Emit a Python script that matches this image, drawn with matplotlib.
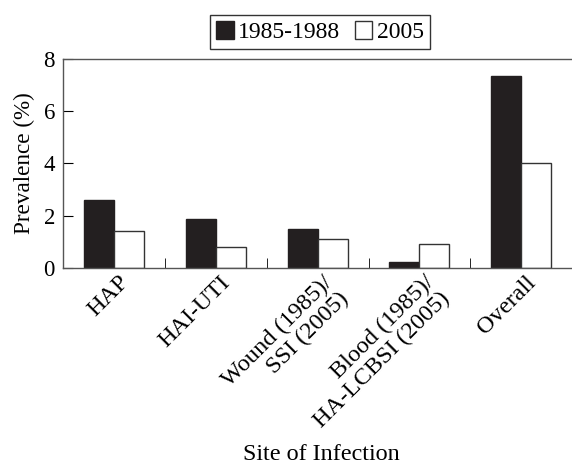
import numpy as np
import matplotlib.pyplot as plt
import matplotlib.transforms as mtransforms

plt.rcParams['font.family'] = ['Liberation Serif', 'DejaVu Serif']

sites = ['HAP', 'HAI-UTI', 'Wound (1985)/\nSSI (2005)',
         'Blood (1985)/\nHA-LCBSI (2005)', 'Overall']
prev_1985 = [2.6, 1.85, 1.5, 0.22, 7.33]
prev_2005 = [1.4, 0.8, 1.1, 0.9, 4.0]
series = ['1985-1988', '2005']


def plot():
    fig = plt.figure(figsize=(5.72, 4.68), dpi=100)
    ax = fig.add_axes([0.1107, 0.428, 0.8893, 0.446])

    x = np.arange(len(sites))
    w = 0.295
    ax.bar(x - w/2, prev_1985, w, color='#231f20', edgecolor='#231f20',
           linewidth=1, label=series[0])
    ax.bar(x + w/2, prev_2005, w, color='white', edgecolor='#333333',
           linewidth=1, label=series[1])

    ax.set_xlim(-0.5, 4.47)
    ax.set_ylim(0, 8)
    ax.set_yticks([0, 2, 4, 6, 8])
    ax.tick_params(axis='y', direction='in', length=7, labelsize=16.5, pad=6)
    ax.spines['right'].set_visible(False)
    for s in ax.spines.values():
        s.set_color('#555555')
        s.set_linewidth(1)

    # group separators as minor ticks, labels on major
    ax.set_xticks(x + 0.5, minor=True)
    ax.set_xticks(x)
    ax.tick_params(axis='x', which='minor', direction='in', length=7)
    ax.tick_params(axis='x', which='major', length=0, labelsize=17.5, pad=3)
    ax.set_xticklabels(sites, rotation=45, ha='right', rotation_mode='anchor',
                       multialignment='right', linespacing=1.1)
    offset = mtransforms.ScaledTranslation(0.04, 0, fig.dpi_scale_trans)
    for lab in ax.get_xticklabels():
        lab.set_transform(lab.get_transform() + offset)

    ax.set_ylabel('Prevalence (%)', fontsize=16.7, labelpad=6)
    fig.text(321/572, 1 - 455/468, 'Site of Infection', fontsize=17.4,
             ha='center', va='center')

    leg = ax.legend(loc='lower center', bbox_to_anchor=(320/572, 1 - 49/468),
                    bbox_transform=fig.transFigure, ncol=2, fontsize=17,
                    frameon=True, fancybox=False, edgecolor='black',
                    handlelength=0.75, handleheight=0.75, handletextpad=0.2,
                    columnspacing=0.6, borderpad=0.25, borderaxespad=0)
    leg.get_frame().set_linewidth(1)

    fig.savefig('out.png', dpi=100)


def main():
    plot()


if __name__ == "__main__":
    main()
